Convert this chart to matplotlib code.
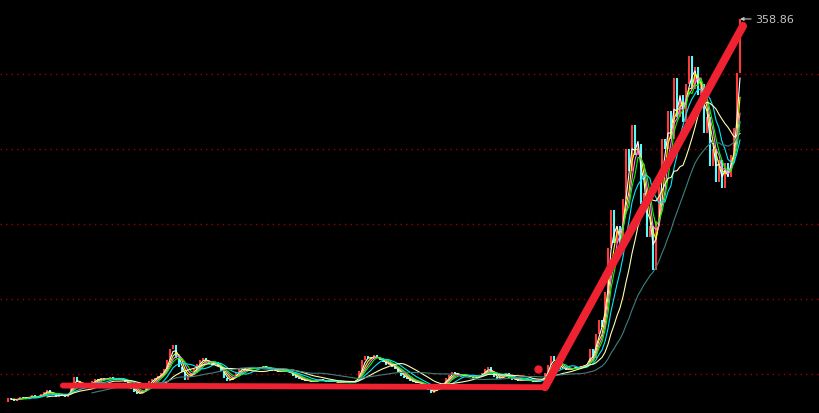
import matplotlib.pyplot as plt
import numpy as np
import pandas as pd

# daily closes (one value per candle)
closes = [
    10, 14, 13, 11, 12, 15, 14, 13, 15, 16, 14, 15, 17, 19, 21, 18,
    16, 15, 17, 16, 15, 17, 27, 33, 28, 25, 23, 24, 26, 29, 31, 30, 32,
    30, 31, 33, 31, 30, 32, 31, 28, 25, 22, 19, 17, 18, 20,
    25, 29, 31, 32, 34, 36, 40, 48, 58, 62, 50, 42, 37, 30, 34, 36,
    40, 45, 48, 50, 47, 45, 44, 46, 43, 38, 32, 29, 30, 33,
    37, 40, 41, 39, 40, 42, 41, 40, 42, 43, 41,
    40, 38, 39, 37, 38, 39, 37, 36, 34, 32, 31, 30,
    29, 30, 28, 29, 30, 31, 29, 28, 30, 29, 28, 27, 29, 28, 27, 28, 29, 30,
    38, 48, 52, 50, 49, 53, 50, 48, 46, 44, 45, 42, 40, 37, 34, 32, 31,
    29, 28, 27, 28, 26, 24, 21, 18, 20, 24, 26, 27, 32, 35, 37, 36,
    34, 33, 35, 34, 33, 32, 33, 34, 36, 40, 42, 36, 33, 31, 32, 34, 36,
    32, 30, 31, 29, 30, 31, 30, 29, 28, 30, 29, 31,
    36, 44, 52, 48, 42, 40, 41, 39, 40, 41, 42, 41, 43, 44, 45,
    58, 50, 72, 85, 78, 110, 150, 185, 155, 170, 150,
    195, 240, 220, 262, 235, 245, 190, 200, 160, 170, 130,
    175, 215, 250, 240, 275, 250, 305, 270, 290, 265,
    300, 325, 295, 315, 290, 300, 255, 270,
    225, 240, 210, 230, 205, 228, 215, 235, 260, 310, 345,
]
peak_high = 358.86

ma_periods = [3, 4, 5, 6, 9, 15, 30]
ma_colors = ['#FFFFFF', '#FFFF00', '#FF80FF', '#00FF00', '#00E8FF', '#FFFFB0', '#3F7F7F']

grid_levels = [35.5, 103.8, 172.1, 240.4, 308.7]

# hand-drawn trend lines (bar index, price)
flat_x, flat_y = [19.3, 180.0], [25.0, 23.5]
rise_x, rise_y = [180.0, 246.0], [23.5, 352.5]
dot_x, dot_y = 177.7, 40.0

close = np.array(closes, dtype=float)
n = len(close)
idx = np.arange(n)
opens = np.concatenate([[close[0]], close[:-1]])
highs = np.maximum(opens, close)
lows = np.minimum(opens, close)
highs[-1] = peak_high

fig = plt.figure(figsize=(8.2, 4.14), dpi=100, facecolor='black')
ax = fig.add_axes([0, 0, 1, 1], facecolor='black')

for g in grid_levels:
    ax.axhline(g, color='#9A0000', lw=1, ls=(0, (1, 3)), zorder=0)

up = close >= opens
ax.vlines(idx[up], lows[up], highs[up], color='#FF3838', lw=1.5, zorder=2)
ax.vlines(idx[~up], lows[~up], highs[~up], color='#54FCFC', lw=1.5, zorder=2)

s = pd.Series(close)
for p, c in zip(ma_periods, ma_colors):
    ma = s.rolling(p, min_periods=p).mean()
    ax.plot(idx, ma, color=c, lw=0.8, zorder=3)

red = '#EE2230'
ax.plot(flat_x, flat_y, color=red, lw=4.2, solid_capstyle='round', zorder=4)
ax.plot(rise_x, rise_y, color=red, lw=5.8, solid_capstyle='round', zorder=4)
ax.plot(dot_x, dot_y, 'o', color=red, ms=5, zorder=4)

ax.annotate('358.86', xy=(n - 1, peak_high), xytext=(11, 0), textcoords='offset points',
            color='#C4C4C4', fontsize=8, va='center', ha='left',
            arrowprops=dict(arrowstyle='-|>', color='#C4C4C4', lw=0.8,
                            mutation_scale=5, shrinkA=1, shrinkB=0))

ax.set_xlim(-5 / 3, -5 / 3 + 820 / 3)
ax.set_ylim(0, 377.05)
ax.axis('off')

fig.savefig('out.png', dpi=100, facecolor='black')
